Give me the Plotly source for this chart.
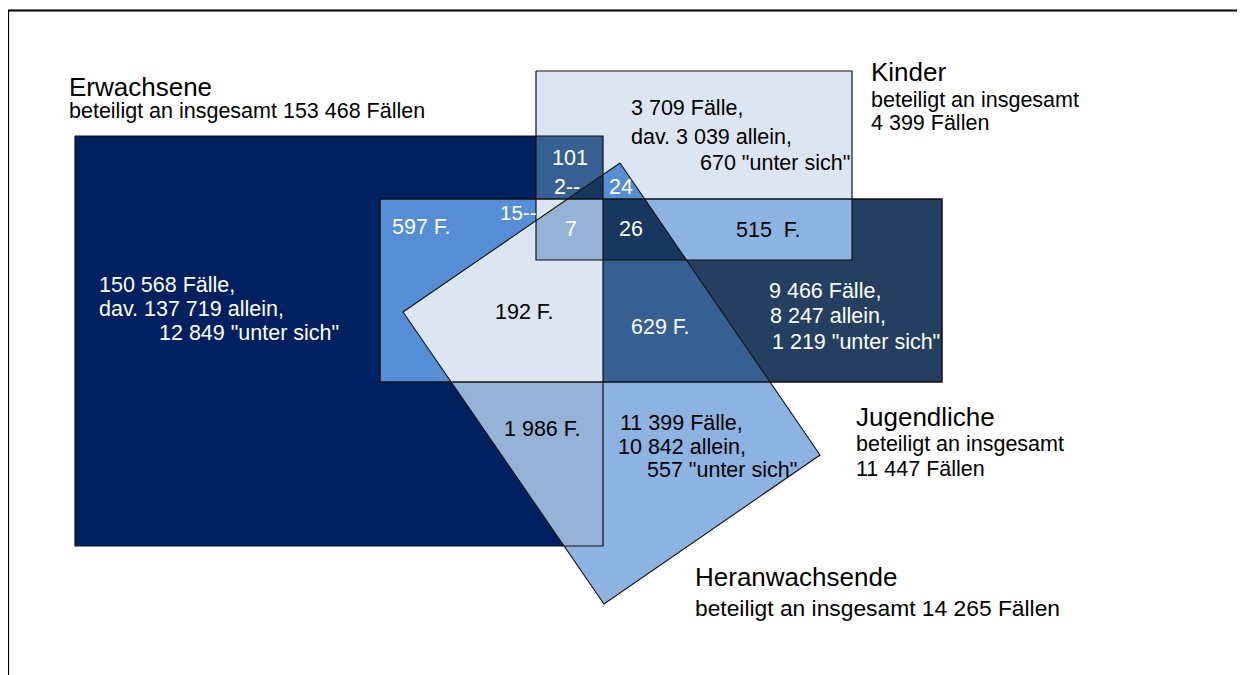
import plotly.graph_objects as go
from itertools import combinations

W, H = 1245, 675
PAGE_OFFSET = 8  # default body margin of the html page

# ---- shape geometry (pixel space, y downward) ----
set_names = ["Erwachsene", "Kinder", "Jugendliche", "Heranwachsende"]
erw_x = [75, 603, 603, 75]
erw_y = [136, 136, 546, 546]
kin_x = [536, 852, 852, 536]
kin_y = [71, 71, 260, 260]
jug_x = [380, 942, 942, 380]
jug_y = [199, 199, 382, 382]
her_x = [620, 820, 604, 403]
her_y = [163, 455, 604, 312]

shape_xs = [erw_x, kin_x, jug_x, her_x]
shape_ys = [erw_y, kin_y, jug_y, her_y]

# colour of each exact overlap region (E=0, K=1, J=2, H=3)
region_keys = ["0", "1", "2", "3",
               "01", "02", "03", "12", "13", "23",
               "012", "013", "023", "123", "0123"]
region_colors = ["#002060", "#DCE6F2", "#243F60", "#8DB3E2",
                 "#366092", "#558ED5", "#95B3D7", "#8DB3E2", "#558ED5", "#366092",
                 "#DCE6F2", "#17375E", "#DCE6F2", "#17375E", "#95B3D7"]

# ---- texts ----
title_texts = ["Erwachsene", "Kinder", "Jugendliche", "Heranwachsende"]
title_x = [67, 869, 854, 693]
title_y = [87, 72, 417, 577]

sub_texts = ["beteiligt an insgesamt 153 468 Fällen",
             "beteiligt an insgesamt", "4 399 Fällen",
             "beteiligt an insgesamt", "11 447 Fällen",
             "beteiligt an insgesamt 14 265 Fällen"]
sub_x = [67, 869, 869, 854, 854, 693]
sub_y = [111, 100, 123, 444, 469, 608]
sub_sizes = [21.5, 21.5, 21.5, 21.5, 21.5, 22.8]

label_texts = ["3 709 Fälle,", "dav. 3 039 allein,", '670 "unter sich"',
               "101", "2--", "24", "15--", "597 F.", "7", "26", "515\u00a0 F.",
               "150 568 Fälle,", "dav. 137 719 allein,", '12 849 "unter sich"',
               "192 F.", "629 F.",
               "9 466 Fälle,", "8 247 allein,", '1 219 "unter sich"',
               "1 986 F.",
               "11 399 Fälle,", "10 842 allein,", '557 "unter sich"']
label_x = [629, 629, 698,
           550, 552, 607, 498, 390, 563, 617, 734,
           97, 97, 157,
           493, 629,
           767, 768, 770,
           502,
           618, 616, 645]
label_y = [108, 137, 163,
           158, 187, 187, 212, 227, 229, 229, 230,
           285, 309, 333,
           312, 327,
           291, 316, 342,
           429,
           423, 447, 470]
label_sizes = [21.5, 21.5, 21.5,
               21.5, 21.5, 21.5, 20.5, 21.5, 21.5, 21.5, 21.5,
               21.5, 21.5, 21.5,
               21.5, 21.5,
               21.5, 21.5, 21.5,
               21.5,
               21.5, 21.5, 21.5]
label_colors = ["black", "black", "black",
                "white", "white", "white", "white", "white", "white", "white", "black",
                "white", "white", "white",
                "black", "white",
                "white", "white", "white",
                "black",
                "black", "black", "black"]


def poly(i):
    return list(zip(shape_xs[i], shape_ys[i]))


def signed_area(p):
    n = len(p)
    return sum(p[i][0] * p[(i + 1) % n][1] - p[(i + 1) % n][0] * p[i][1] for i in range(n))


def clip(subject, clipper):
    s = 1 if signed_area(clipper) > 0 else -1
    out = list(subject)
    n = len(clipper)
    for i in range(n):
        a = clipper[i]
        b = clipper[(i + 1) % n]
        inp = out
        out = []
        if not inp:
            break

        def inside(p):
            return s * ((b[0] - a[0]) * (p[1] - a[1]) - (b[1] - a[1]) * (p[0] - a[0])) >= 0

        def inter(p, q):
            x1, y1 = p
            x2, y2 = q
            x3, y3 = a
            x4, y4 = b
            den = (x1 - x2) * (y3 - y4) - (y1 - y2) * (x3 - x4)
            t = ((x1 - x3) * (y3 - y4) - (y1 - y3) * (x3 - x4)) / den
            return (x1 + t * (x2 - x1), y1 + t * (y2 - y1))

        for j in range(len(inp)):
            cur = inp[j]
            prev = inp[j - 1]
            if inside(cur):
                if not inside(prev):
                    out.append(inter(prev, cur))
                out.append(cur)
            elif inside(prev):
                out.append(inter(prev, cur))
    return out


fig = go.Figure()

# filled regions, painter's order by number of overlapping sets
color_of = dict(zip(region_keys, region_colors))
for k in range(1, 5):
    for combo in combinations(range(4), k):
        p = poly(combo[0])
        for c in combo[1:]:
            p = clip(p, poly(c))
        if len(p) < 3:
            continue
        key = "".join(str(c) for c in combo)
        col = color_of[key]
        xs = [q[0] for q in p] + [p[0][0]]
        ys = [q[1] for q in p] + [p[0][1]]
        fig.add_trace(go.Scatter(x=xs, y=ys, mode="lines", fill="toself",
                                 fillcolor=col, line=dict(width=0, color=col),
                                 hoverinfo="skip", showlegend=False))

# small green segment on the Heranwachsende edge (inside the Kinder box)
fig.add_trace(go.Scatter(x=[536, 566], y=[221, 200.5], mode="lines",
                         line=dict(width=1.2, color="#9BBB59"),
                         hoverinfo="skip", showlegend=False))

# outlines
outline_widths = [1.2, 1.2, 1.5, 1.1]
for i in range(4):
    xs = shape_xs[i] + [shape_xs[i][0]]
    ys = shape_ys[i] + [shape_ys[i][0]]
    fig.add_trace(go.Scatter(x=xs, y=ys, mode="lines",
                             line=dict(width=outline_widths[i], color="#111111"),
                             hoverinfo="skip", showlegend=False))

# frame
fig.add_trace(go.Scatter(x=[8, 8, 1260], y=[690, 10.5, 10.5], mode="lines",
                         line=dict(width=2.2, color="#000000"),
                         hoverinfo="skip", showlegend=False))

font_family = "Liberation Sans, Arial, sans-serif"
annotations = []
for t, x, y in zip(title_texts, title_x, title_y):
    annotations.append(dict(text=t, x=x, y=y, xref="x", yref="y", showarrow=False,
                            xanchor="left", yanchor="middle",
                            font=dict(family=font_family, size=26, color="black")))
for t, x, y, s in zip(sub_texts, sub_x, sub_y, sub_sizes):
    annotations.append(dict(text=t, x=x, y=y, xref="x", yref="y", showarrow=False,
                            xanchor="left", yanchor="middle",
                            font=dict(family=font_family, size=s, color="black")))
for t, x, y, c, s in zip(label_texts, label_x, label_y, label_colors, label_sizes):
    annotations.append(dict(text=t, x=x, y=y, xref="x", yref="y", showarrow=False,
                            xanchor="left", yanchor="middle",
                            font=dict(family=font_family, size=s, color=c)))

fig.update_layout(
    width=W, height=H, autosize=False,
    margin=dict(l=0, r=0, t=0, b=0, pad=0),
    paper_bgcolor="white", plot_bgcolor="white",
    xaxis=dict(range=[PAGE_OFFSET, W + PAGE_OFFSET], visible=False, fixedrange=True),
    yaxis=dict(range=[H + PAGE_OFFSET, PAGE_OFFSET], visible=False, fixedrange=True),
    annotations=annotations,
    showlegend=False,
)

fig.write_html("out.html")
